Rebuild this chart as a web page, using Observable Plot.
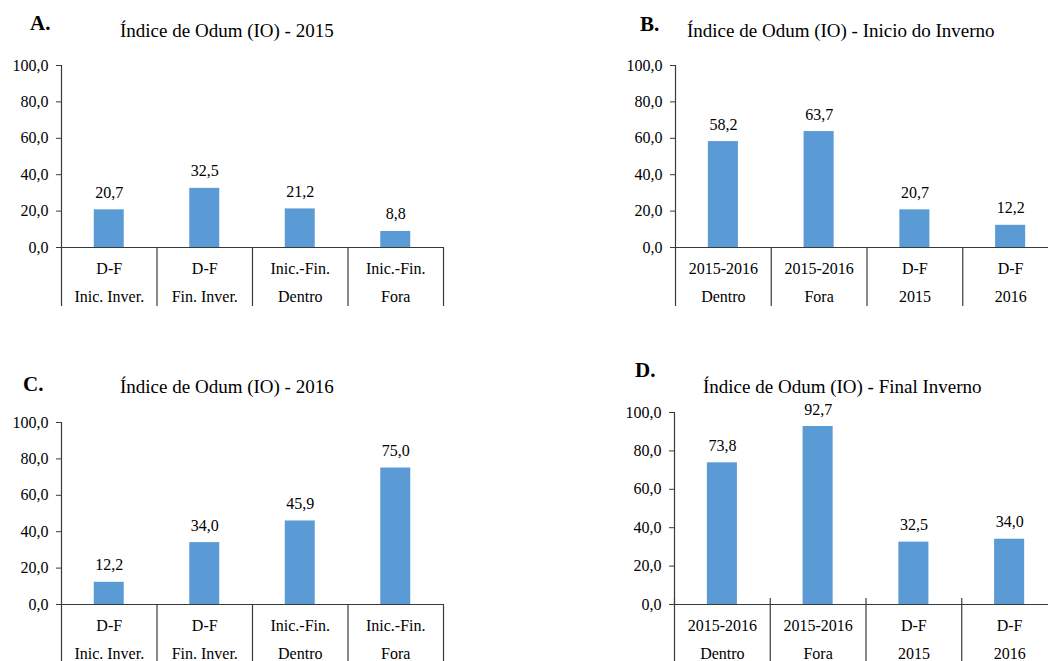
<!DOCTYPE html>
<html>
<head>
<meta charset="utf-8">
<script src="https://cdn.jsdelivr.net/npm/d3@7"></script>
<script src="https://cdn.jsdelivr.net/npm/@observablehq/plot@0.6"></script>
<style>
  html, body { margin: 0; padding: 0; background: #fff; overflow: hidden; }
  #fig { position: relative; width: 1048px; height: 661px; overflow: hidden;
         font-family: "Liberation Serif", "Times New Roman", serif; color: #000; }
  .panel { position: absolute; }
  .panel svg { overflow: visible; max-width: none !important; }
  .letter { position: absolute; font-weight: bold; font-size: 21px; line-height: 21px; white-space: nowrap; }
  .title { position: absolute; font-size: 19px; line-height: 19px; white-space: nowrap; }
</style>
</head>
<body>
<div id="fig"></div>
<script>
// Odum index (IO) per comparison, four panels

// Category labels (two rows under each bar)
const yearTopLabels = ["D-F", "D-F", "Inic.-Fin.", "Inic.-Fin."];
const yearBottomLabels = ["Inic. Inver.", "Fin. Inver.", "Dentro", "Fora"];
const seasonTopLabels = ["2015-2016", "2015-2016", "D-F", "D-F"];
const seasonBottomLabels = ["Dentro", "Fora", "2015", "2016"];

// Index values
const io2015 = [20.7, 32.5, 21.2, 8.8];
const io2016 = [12.2, 34.0, 45.9, 75.0];
const ioInicioInverno = [58.2, 63.7, 20.7, 12.2];
const ioFinalInverno = [73.8, 92.7, 32.5, 34.0];

// Y axis ticks
const yTicks = [0, 20, 40, 60, 80, 100];

// Panel titles
const panelLetters = ["A.", "B.", "C.", "D."];
const panelTitles = [
  "Índice de Odum (IO) - 2015",
  "Índice de Odum (IO) - Inicio do Inverno",
  "Índice de Odum (IO) - 2016",
  "Índice de Odum (IO) - Final Inverno"
];

const fmt = v => v.toFixed(1).replace(".", ",");
const barColor = "#5b9bd5";
const lineColor = "#3a3a3a";
const barHalfWidth = 0.157; // fraction of one category slot

function chart({values, topLabels, bottomLabels, width, height,
                marginLeft, marginRight, marginTop, marginBottom,
                dividerSize, dividerShift}) {
  const data = values.map((v, i) => ({i, v, top: topLabels[i], bottom: bottomLabels[i]}));
  const bounds = d3.range(values.length + 1);
  const center = d => d.i + 0.5;
  return Plot.plot({
    width, height, marginLeft, marginRight, marginTop, marginBottom,
    style: {fontFamily: "'Liberation Serif', 'Times New Roman', serif", fontSize: "16px",
            color: "#000", background: "transparent", overflow: "visible"},
    x: {domain: [0, values.length], axis: null},
    y: {domain: [0, 100], axis: null},
    marks: [
      Plot.rectY(data, {x1: d => center(d) - barHalfWidth, x2: d => center(d) + barHalfWidth,
                        y1: 0, y2: "v", fill: barColor}),
      Plot.ruleY([0], {stroke: lineColor, strokeWidth: 1.2}),
      Plot.ruleX([0], {y1: 0, y2: 100, stroke: lineColor, strokeWidth: 1.2}),
      Plot.axisY(yTicks, {anchor: "left", tickSize: 5, tickPadding: 8, tickFormat: fmt,
                          stroke: lineColor, fontSize: 16, label: null}),
      Plot.axisX(bounds, {anchor: "bottom", tickSize: dividerSize, tickFormat: () => "",
                          stroke: lineColor, strokeWidth: 1.2, dy: dividerShift, label: null}),
      Plot.text(data, {x: center, y: "v", text: d => fmt(d.v), lineAnchor: "bottom",
                       dy: -12, fontSize: 16, fill: "#000"}),
      Plot.text(data, {x: center, text: "top", frameAnchor: "bottom", lineAnchor: "bottom",
                       dy: 26, fontSize: 16, fill: "#000"}),
      Plot.text(data, {x: center, text: "bottom", frameAnchor: "bottom", lineAnchor: "bottom",
                       dy: 54, fontSize: 16, fill: "#000"})
    ]
  });
}

const panels = [
  {values: io2015, topLabels: yearTopLabels, bottomLabels: yearBottomLabels,
   left: 0, top: 45, width: 460, height: 270,
   marginLeft: 61, marginRight: 17, marginTop: 20, marginBottom: 68,
   dividerSize: 59, dividerShift: 0,
   letter: {left: 30, top: 13}, title: {left: 120, top: 21}},
  {values: ioInicioInverno, topLabels: seasonTopLabels, bottomLabels: seasonBottomLabels,
   left: 600, top: 45, width: 460, height: 270,
   marginLeft: 75, marginRight: 2, marginTop: 20, marginBottom: 68,
   dividerSize: 59, dividerShift: 0,
   letter: {left: 640, top: 14}, title: {left: 687, top: 21}},
  {values: io2016, topLabels: yearTopLabels, bottomLabels: yearBottomLabels,
   left: 0, top: 400, width: 460, height: 261,
   marginLeft: 61, marginRight: 17, marginTop: 22, marginBottom: 57,
   dividerSize: 60, dividerShift: 0,
   letter: {left: 23, top: 374}, title: {left: 120, top: 377}},
  {values: ioFinalInverno, topLabels: seasonTopLabels, bottomLabels: seasonBottomLabels,
   left: 600, top: 400, width: 460, height: 261,
   marginLeft: 74, marginRight: 3, marginTop: 12, marginBottom: 57,
   dividerSize: 66, dividerShift: -6,
   letter: {left: 635, top: 360}, title: {left: 703, top: 377}}
];

const fig = document.getElementById("fig");
panels.forEach((p, k) => {
  const holder = document.createElement("div");
  holder.className = "panel";
  holder.style.left = p.left + "px";
  holder.style.top = p.top + "px";
  holder.style.width = p.width + "px";
  holder.style.height = p.height + "px";
  holder.appendChild(chart(p));
  fig.appendChild(holder);

  const letter = document.createElement("div");
  letter.className = "letter";
  letter.style.left = p.letter.left + "px";
  letter.style.top = p.letter.top + "px";
  letter.textContent = panelLetters[k];
  fig.appendChild(letter);

  const title = document.createElement("div");
  title.className = "title";
  title.style.left = p.title.left + "px";
  title.style.top = p.title.top + "px";
  title.textContent = panelTitles[k];
  fig.appendChild(title);
});
</script>
</body>
</html>
